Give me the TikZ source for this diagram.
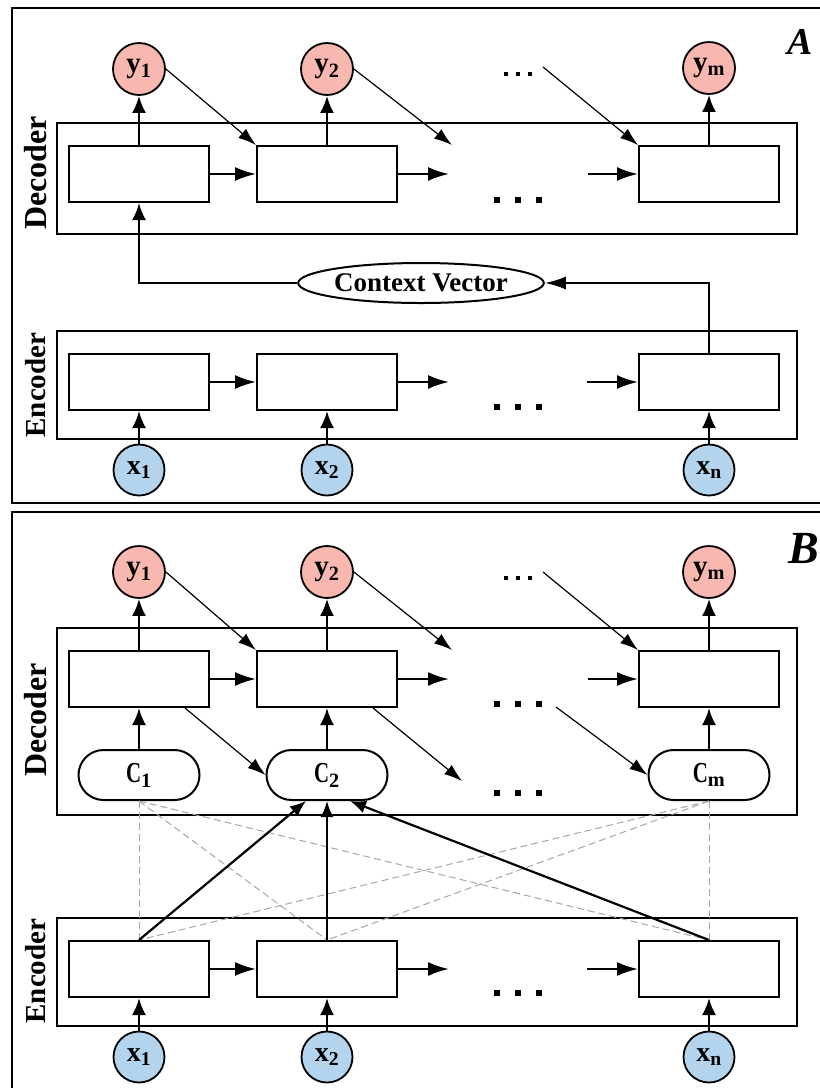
\documentclass[tikz,border=0pt]{standalone}
\usepackage{fontspec}
\setmainfont{Liberation Serif}
\usetikzlibrary{arrows.meta,calc,shapes.geometric}
\definecolor{ypink}{HTML}{F8B8AF}
\definecolor{xblue}{HTML}{B4D4EE}
\tikzset{
  frame/.style={draw, line width=2pt},
  group/.style={draw, line width=2pt, minimum width=740pt, inner sep=0pt},
  cell/.style={draw, line width=2pt, fill=white, minimum width=140pt, minimum height=56pt, inner sep=0pt},
  ynode/.style={circle, draw, line width=1.8pt, fill=ypink, minimum size=52pt, inner sep=0pt,
    font=\fontsize{29}{30}\selectfont\bfseries},
  xnode/.style={circle, draw, line width=1.8pt, fill=xblue, minimum size=51pt, inner sep=0pt,
    font=\fontsize{28}{30}\selectfont\bfseries},
  cnode/.style={draw, line width=2pt, fill=white, rounded corners=25pt, minimum width=121pt,
    minimum height=50pt, inner sep=0pt, font=\fontsize{29}{30}\selectfont\bfseries},
  ctx/.style={ellipse, draw, line width=2pt, fill=white, minimum width=245pt, minimum height=40pt,
    inner sep=0pt, font=\fontsize{27}{28}\selectfont\bfseries},
  side/.style={rotate=90, inner sep=0pt},
  vflow/.style={line width=2.4pt, -{Latex[length=17pt,width=14pt]}},
  hflow/.style={line width=2.2pt, -{Latex[length=21pt,width=14pt]}},
  feed/.style={line width=1.2pt, -{Latex[length=18pt,width=12pt]}},
  attn/.style={line width=2.2pt, -{Latex[length=16pt,width=13pt]}},
  weak/.style={draw=black!35, dash pattern=on 7pt off 4pt, line width=1pt},
  panel/.style={anchor=west, inner sep=0pt, font=\bfseries\itshape},
  pics/bigdots/.style={code={\foreach \i in {-21,0,21} \fill (\i-3,-3) rectangle (\i+3,3);}},
  pics/smalldots/.style={code={\foreach \i in {-12,0,12} \fill (\i-2,-2) rectangle (\i+2,2);}}
}
\newcommand{\declabel}{\fontsize{32}{33}\selectfont\bfseries Decoder}
\newcommand{\enclabel}{\fontsize{29}{30}\selectfont\bfseries Encoder}
\newcommand{\cname}{\scalebox{0.72}[1]{C}}
\begin{document}
\begin{tikzpicture}[x=1pt,y=-1pt]
\useasboundingbox (0,0) rectangle (820,1088);
\fill[white] (0,0) rectangle (820,1088);
\clip (0,0) rectangle (820,1088);

% ---------------- Panel A: plain encoder-decoder ----------------
\draw[frame] (12,8) rectangle (840,503);
\node[panel] (labA) at (787,42) {\fontsize{38}{40}\selectfont A};

\node[group, minimum height=111pt] (decA) at (427,178.5) {};
\node[group, minimum height=108pt] (encA) at (427,385) {};
\node[side] (decAl) at (36,173) {\declabel};
\node[side] (encAl) at (36,385) {\enclabel};

\node[ynode] (yA1) at (139,69) {y\textsubscript{1}};
\node[ynode] (yA2) at (327,69) {y\textsubscript{2}};
\node[ynode] (yAm) at (709,68) {y\textsubscript{m}};

\node[cell] (dA1) at (139,174) {};
\node[cell] (dA2) at (327,174) {};
\node[cell] (dAm) at (709,174) {};

\node[cell] (eA1) at (139,382) {};
\node[cell] (eA2) at (327,382) {};
\node[cell] (eAm) at (709,382) {};

\node[xnode] (xA1) at (139,470) {x\textsubscript{1}};
\node[xnode] (xA2) at (327,470) {x\textsubscript{2}};
\node[xnode] (xAn) at (709,470) {x\textsubscript{n}};

\node[ctx] (ctxA) at (421,283) {Context Vector};

\pic at (518,74) {smalldots};
\pic at (518,200) {bigdots};
\pic at (518,407) {bigdots};

\coordinate (dAgap) at (449,174);
\coordinate (dAin) at (588,174);
\coordinate (eAgap) at (449,382);
\coordinate (eAin) at (587,382);
\coordinate (fA2) at (452,145);
\coordinate (fAm) at (543,67);

\foreach \a/\b in {dA1/yA1, dA2/yA2, dAm/yAm, xA1/eA1, xA2/eA2, xAn/eAm}
  \draw[vflow] (\a) -- (\b);
\draw[hflow] (dA1) -- (dA2);
\draw[hflow] (dA2) -- (dAgap);
\draw[hflow] (dAin) -- (dAm);
\draw[hflow] (eA1) -- (eA2);
\draw[hflow] (eA2) -- (eAgap);
\draw[hflow] (eAin) -- (eAm);
\draw[feed] (yA1.east) -- (dA2.north west);
\draw[feed] (yA2.east) -- (fA2);
\draw[feed] (fAm) -- (dAm.north west);
\draw[line width=2pt, -{Latex[length=21pt,width=13pt]}] (eAm.north) |- (ctxA.east);
\draw[vflow] (ctxA.west) -| (dA1.south);

% ---------------- Panel B: encoder-decoder with attention ----------------
\draw[frame] (12,512) rectangle (840,1100);
\node[panel] (labB) at (788,548) {\fontsize{46}{48}\selectfont B};

\node[group, minimum height=187pt] (decB) at (427,721.5) {};
\node[group, minimum height=108pt] (encB) at (427,972) {};
\node[side] (decBl) at (36,720) {\declabel};
\node[side] (encBl) at (36,971) {\enclabel};

\node[ynode] (yB1) at (139,572) {y\textsubscript{1}};
\node[ynode] (yB2) at (327,572) {y\textsubscript{2}};
\node[ynode] (yBm) at (709,572) {y\textsubscript{m}};

\node[cell] (dB1) at (139,679) {};
\node[cell] (dB2) at (327,679) {};
\node[cell] (dBm) at (709,679) {};

\node[cnode] (cB1) at (139,775) {\cname\textsubscript{1}};
\node[cnode] (cB2) at (327,775) {\cname\textsubscript{2}};
\node[cnode] (cBm) at (709,775) {\cname\textsubscript{m}};

\node[cell] (eB1) at (139,969) {};
\node[cell] (eB2) at (327,969) {};
\node[cell] (eBm) at (709,969) {};

\node[xnode] (xB1) at (139,1057) {x\textsubscript{1}};
\node[xnode] (xB2) at (327,1057) {x\textsubscript{2}};
\node[xnode] (xBn) at (709,1057) {x\textsubscript{n}};

\pic at (518,578) {smalldots};
\pic at (518,704) {bigdots};
\pic at (518,793) {bigdots};
\pic at (518,993) {bigdots};

\coordinate (dBgap) at (449,679);
\coordinate (dBin) at (588,679);
\coordinate (eBgap) at (449,969);
\coordinate (eBin) at (587,969);
\coordinate (fB2) at (452,650);
\coordinate (fBm) at (543,572);
\coordinate (gB2) at (462,781);
\coordinate (gBm) at (556,707);

% soft (dashed) attention links
\foreach \c in {cB1, cBm}
  \foreach \e in {eB1, eB2, eBm}
    \draw[weak] (\c.south) -- (\e.north);

\foreach \a/\b in {dB1/yB1, dB2/yB2, dBm/yBm, cB1/dB1, cB2/dB2, cBm/dBm, xB1/eB1, xB2/eB2, xBn/eBm}
  \draw[vflow] (\a) -- (\b);
\draw[hflow] (dB1) -- (dB2);
\draw[hflow] (dB2) -- (dBgap);
\draw[hflow] (dBin) -- (dBm);
\draw[hflow] (eB1) -- (eB2);
\draw[hflow] (eB2) -- (eBgap);
\draw[hflow] (eBin) -- (eBm);
\draw[feed] (yB1.east) -- (dB2.north west);
\draw[feed] (yB2.east) -- (fB2);
\draw[feed] (fBm) -- (dBm.north west);
\draw[feed] ([xshift=-25pt]dB1.south east) -- (cB2.west);
\draw[feed] ([xshift=-25pt]dB2.south east) -- (gB2);
\draw[feed] (gBm) -- (cBm.west);

% attention weights flowing into C2
\draw[attn] (eB1.north) -- ([xshift=-21pt]cB2.south);
\draw[attn] (eB2.north) -- (cB2.south);
\draw[attn] (eBm.north) -- ([xshift=23pt]cB2.south);
\end{tikzpicture}
\end{document}
